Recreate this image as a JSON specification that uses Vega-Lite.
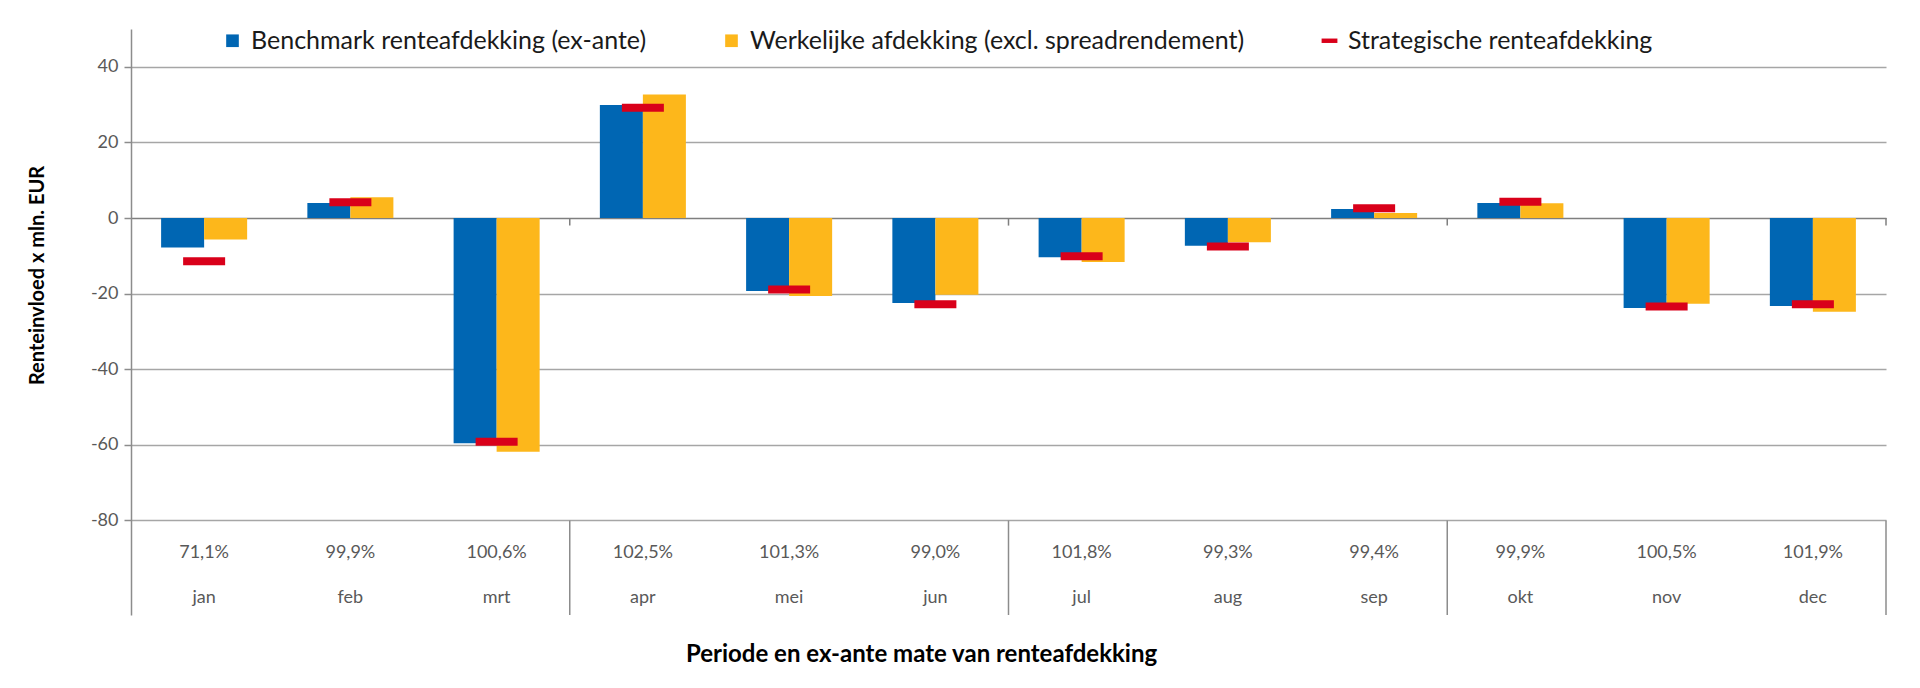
{
  "$schema": "https://vega.github.io/schema/vega-lite/v6.json",
  "width": 1755,
  "height": 586,
  "autosize": {"type": "none"},
  "padding": {"left": 131, "top": 29, "right": 34, "bottom": 73},
  "background": "white",
  "data": {
    "values": [
      {"maand": "jan", "pct": "71,1%", "serie": "Benchmark renteafdekking (ex-ante)", "waarde": -7.8},
      {"maand": "jan", "pct": "71,1%", "serie": "Werkelijke afdekking (excl. spreadrendement)", "waarde": -5.7},
      {"maand": "jan", "pct": "71,1%", "serie": "Strategische renteafdekking", "waarde": -11.4},
      {"maand": "feb", "pct": "99,9%", "serie": "Benchmark renteafdekking (ex-ante)", "waarde": 4.0},
      {"maand": "feb", "pct": "99,9%", "serie": "Werkelijke afdekking (excl. spreadrendement)", "waarde": 5.5},
      {"maand": "feb", "pct": "99,9%", "serie": "Strategische renteafdekking", "waarde": 4.2},
      {"maand": "mrt", "pct": "100,6%", "serie": "Benchmark renteafdekking (ex-ante)", "waarde": -59.6},
      {"maand": "mrt", "pct": "100,6%", "serie": "Werkelijke afdekking (excl. spreadrendement)", "waarde": -61.8},
      {"maand": "mrt", "pct": "100,6%", "serie": "Strategische renteafdekking", "waarde": -59.2},
      {"maand": "apr", "pct": "102,5%", "serie": "Benchmark renteafdekking (ex-ante)", "waarde": 29.9},
      {"maand": "apr", "pct": "102,5%", "serie": "Werkelijke afdekking (excl. spreadrendement)", "waarde": 32.7},
      {"maand": "apr", "pct": "102,5%", "serie": "Strategische renteafdekking", "waarde": 29.2},
      {"maand": "mei", "pct": "101,3%", "serie": "Benchmark renteafdekking (ex-ante)", "waarde": -19.3},
      {"maand": "mei", "pct": "101,3%", "serie": "Werkelijke afdekking (excl. spreadrendement)", "waarde": -20.6},
      {"maand": "mei", "pct": "101,3%", "serie": "Strategische renteafdekking", "waarde": -18.9},
      {"maand": "jun", "pct": "99,0%", "serie": "Benchmark renteafdekking (ex-ante)", "waarde": -22.5},
      {"maand": "jun", "pct": "99,0%", "serie": "Werkelijke afdekking (excl. spreadrendement)", "waarde": -20.3},
      {"maand": "jun", "pct": "99,0%", "serie": "Strategische renteafdekking", "waarde": -22.8},
      {"maand": "jul", "pct": "101,8%", "serie": "Benchmark renteafdekking (ex-ante)", "waarde": -10.4},
      {"maand": "jul", "pct": "101,8%", "serie": "Werkelijke afdekking (excl. spreadrendement)", "waarde": -11.6},
      {"maand": "jul", "pct": "101,8%", "serie": "Strategische renteafdekking", "waarde": -10.1},
      {"maand": "aug", "pct": "99,3%", "serie": "Benchmark renteafdekking (ex-ante)", "waarde": -7.3},
      {"maand": "aug", "pct": "99,3%", "serie": "Werkelijke afdekking (excl. spreadrendement)", "waarde": -6.4},
      {"maand": "aug", "pct": "99,3%", "serie": "Strategische renteafdekking", "waarde": -7.5},
      {"maand": "sep", "pct": "99,4%", "serie": "Benchmark renteafdekking (ex-ante)", "waarde": 2.4},
      {"maand": "sep", "pct": "99,4%", "serie": "Werkelijke afdekking (excl. spreadrendement)", "waarde": 1.3},
      {"maand": "sep", "pct": "99,4%", "serie": "Strategische renteafdekking", "waarde": 2.6},
      {"maand": "okt", "pct": "99,9%", "serie": "Benchmark renteafdekking (ex-ante)", "waarde": 4.0},
      {"maand": "okt", "pct": "99,9%", "serie": "Werkelijke afdekking (excl. spreadrendement)", "waarde": 3.9},
      {"maand": "okt", "pct": "99,9%", "serie": "Strategische renteafdekking", "waarde": 4.3},
      {"maand": "nov", "pct": "100,5%", "serie": "Benchmark renteafdekking (ex-ante)", "waarde": -23.8},
      {"maand": "nov", "pct": "100,5%", "serie": "Werkelijke afdekking (excl. spreadrendement)", "waarde": -22.7},
      {"maand": "nov", "pct": "100,5%", "serie": "Strategische renteafdekking", "waarde": -23.4},
      {"maand": "dec", "pct": "101,9%", "serie": "Benchmark renteafdekking (ex-ante)", "waarde": -23.3},
      {"maand": "dec", "pct": "101,9%", "serie": "Werkelijke afdekking (excl. spreadrendement)", "waarde": -24.8},
      {"maand": "dec", "pct": "101,9%", "serie": "Strategische renteafdekking", "waarde": -22.8}
    ]
  },
  "layer": [
    {
      "transform": [{"filter": "datum.serie != 'Strategische renteafdekking'"}],
      "mark": {"type": "bar"},
      "encoding": {
        "x": {
          "field": "maand", "type": "nominal",
          "sort": ["jan", "feb", "mrt", "apr", "mei", "jun", "jul", "aug", "sep", "okt", "nov", "dec"],
          "scale": {"paddingInner": 0, "paddingOuter": 0},
          "axis": {
            "labels": false, "ticks": false, "domain": false, "grid": false,
            "title": "Periode en ex-ante mate van renteafdekking",
            "titleFontSize": 24, "titlePadding": 27, "titleX": 790
          }
        },
        "xOffset": {
          "field": "serie", "type": "nominal",
          "scale": {"domain": ["Benchmark renteafdekking (ex-ante)", "Werkelijke afdekking (excl. spreadrendement)"], "paddingOuter": 0.7, "paddingInner": 0}
        },
        "y": {
          "field": "waarde", "type": "quantitative",
          "scale": {"domain": [-105, 50], "nice": false, "zero": false},
          "axis": {
            "values": [-80, -60, -40, -20, 0, 20, 40],
            "labelExpr": "toString(datum.value)",
            "grid": true,
            "gridColor": {"condition": {"test": "datum.value === 0", "value": "#7f7f7f"}, "value": "#a6a6a6"},
            "gridWidth": 1.5,
            "domainColor": "#8c8c8c", "domainWidth": 1.5,
            "tickColor": "#8c8c8c", "tickWidth": 1.5, "tickSize": 7,
            "labelPadding": 6, "labelColor": "#595959", "labelFontSize": 18,
            "title": "Renteinvloed x mln. EUR",
            "titleX": -94, "titleY": 246, "titleAlign": "center", "titleBaseline": "middle", "titleAngle": -90
          }
        },
        "color": {
          "field": "serie", "type": "nominal",
          "scale": {
            "domain": ["Benchmark renteafdekking (ex-ante)", "Werkelijke afdekking (excl. spreadrendement)", "Strategische renteafdekking"],
            "range": ["#0066b3", "#fdb71b", "#d9001a"]
          },
          "legend": {
            "title": null, "orient": "none", "direction": "horizontal",
            "legendX": 89, "legendY": -1,
            "columnPadding": 72, "symbolType": "square", "symbolSize": 160,
            "labelFontSize": 25, "labelOffset": 6, "labelColor": "#1a1a1a", "labelLimit": 0,
            "encode": {
              "symbols": {
                "update": {
                  "shape": {"signal": "datum.value === 'Strategische renteafdekking' ? 'M-1.25,-0.35H1.25V0.35H-1.25Z' : 'square'"}
                }
              }
            }
          }
        }
      }
    },
    {
      "transform": [{"filter": "datum.serie == 'Strategische renteafdekking'"}],
      "mark": {"type": "tick", "thickness": 8, "size": 42, "opacity": 1},
      "encoding": {
        "x": {"field": "maand", "type": "nominal", "sort": ["jan", "feb", "mrt", "apr", "mei", "jun", "jul", "aug", "sep", "okt", "nov", "dec"]},
        "y": {"field": "waarde", "type": "quantitative"},
        "color": {"field": "serie", "type": "nominal"}
      }
    },
    {
      "transform": [
        {"filter": "datum.serie == 'Strategische renteafdekking'"},
        {"filter": "indexof(['mrt', 'jun', 'sep', 'dec'], datum.maand) >= 0"}
      ],
      "mark": {"type": "rule", "color": "#7f7f7f", "strokeWidth": 1.5},
      "encoding": {
        "x": {"field": "maand", "type": "nominal", "sort": ["jan", "feb", "mrt", "apr", "mei", "jun", "jul", "aug", "sep", "okt", "nov", "dec"], "bandPosition": 1},
        "y": {"datum": 0},
        "y2": {"datum": -2}
      }
    },
    {
      "transform": [
        {"filter": "datum.serie == 'Strategische renteafdekking'"},
        {"filter": "indexof(['mrt', 'jun', 'sep', 'dec'], datum.maand) >= 0"}
      ],
      "mark": {"type": "rule", "color": "#8c8c8c", "strokeWidth": 1.5},
      "encoding": {
        "x": {"field": "maand", "type": "nominal", "sort": ["jan", "feb", "mrt", "apr", "mei", "jun", "jul", "aug", "sep", "okt", "nov", "dec"], "bandPosition": 1},
        "y": {"datum": -80},
        "y2": {"datum": -105}
      }
    },
    {
      "transform": [{"filter": "datum.serie == 'Strategische renteafdekking'"}],
      "mark": {"type": "text", "fontSize": 18, "color": "#595959", "baseline": "middle"},
      "encoding": {
        "x": {"field": "maand", "type": "nominal", "sort": ["jan", "feb", "mrt", "apr", "mei", "jun", "jul", "aug", "sep", "okt", "nov", "dec"]},
        "y": {"datum": -88.5},
        "text": {"field": "pct"}
      }
    },
    {
      "transform": [{"filter": "datum.serie == 'Strategische renteafdekking'"}],
      "mark": {"type": "text", "fontSize": 18, "color": "#595959", "baseline": "middle"},
      "encoding": {
        "x": {"field": "maand", "type": "nominal", "sort": ["jan", "feb", "mrt", "apr", "mei", "jun", "jul", "aug", "sep", "okt", "nov", "dec"]},
        "y": {"datum": -100.6},
        "text": {"field": "maand"}
      }
    }
  ],
  "config": {
    "font": "Lato",
    "view": {"stroke": null},
    "axis": {
      "titleFontSize": 20,
      "titleFontWeight": "bold",
      "titleColor": "#000000"
    }
  }
}
